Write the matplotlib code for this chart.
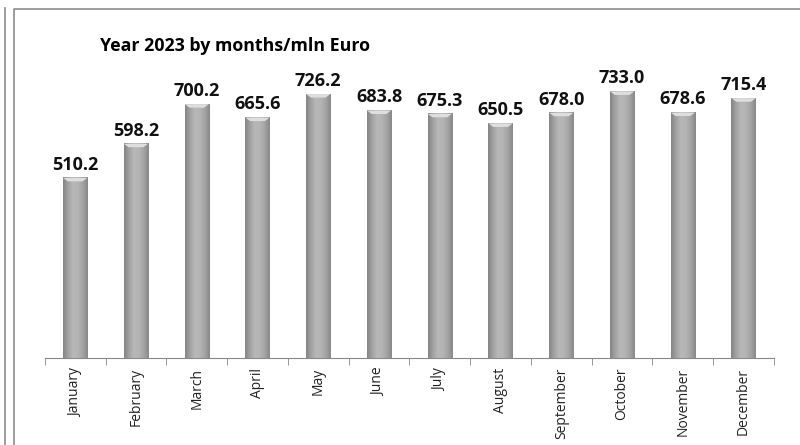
import numpy as np
import matplotlib.pyplot as plt
from matplotlib.colors import LinearSegmentedColormap
from matplotlib.lines import Line2D

months = ['January', 'February', 'March', 'April', 'May', 'June', 'July',
          'August', 'September', 'October', 'November', 'December']
values = [510.2, 598.2, 700.2, 665.6, 726.2, 683.8, 675.3, 650.5, 678.0, 733.0, 678.6, 715.4]
title = 'Year 2023 by months/mln Euro'

fig = plt.figure(figsize=(8, 4.45), dpi=100)
ax = fig.add_axes([0.056, 0.1955, 0.9115, 0.715])
ax.set_xlim(-0.5, len(months) - 0.5)
ax.set_ylim(46, 866)

x = np.arange(len(months))
bars = ax.bar(x, values, width=0.4, color='#a6a6a6', edgecolor='none', zorder=2)

# horizontal shading across each bar
shade = LinearSegmentedColormap.from_list(
    'shade', ['#858585', '#a2a2a2', '#b8b8b8', '#b4b4b4', '#a4a4a4', '#888888'])
grad = np.linspace(0, 1, 64).reshape(1, -1)
for b in bars:
    x0, w, h = b.get_x(), b.get_width(), b.get_height()
    im = ax.imshow(grad, cmap=shade, aspect='auto', zorder=3,
                   extent=[x0, x0 + w, 0, h], interpolation='bicubic')
    im.set_clip_path(b)
    im.set_clip_box(ax.bbox)
    # lighter bevel at the top
    cap = 9
    ax.fill([x0, x0 + w, x0 + w * 0.8, x0 + w * 0.2],
            [h, h, h - cap, h - cap], color='#dedede', zorder=4, lw=0)

ax.set_xlim(-0.5, len(months) - 0.5)
ax.set_ylim(46, 866)

for xi, v in zip(x, values):
    ax.annotate(f'{v:.1f}', (xi, v), xytext=(0, 3), textcoords='offset points',
                ha='center', va='bottom', fontsize=13, fontweight='bold',
                family='Open Sans', color='#111111')

ax.set_xticks(x)
ax.set_xticklabels(months, rotation=90, fontsize=10, family='Open Sans', color='#222222')
ax.set_xticks(np.arange(-0.5, len(months)), minor=True)
ax.tick_params(axis='x', which='major', length=0, pad=7)
ax.tick_params(axis='x', which='minor', length=5, color='#888888')
ax.set_yticks([])
for s in ['top', 'right', 'left']:
    ax.spines[s].set_visible(False)
ax.spines['bottom'].set_color('#888888')

fig.text(100 / 800, 1 - 46 / 445, title, fontsize=12.8,
         fontweight='bold', family='Open Sans', va='center', ha='left')

# chart frame
fig.add_artist(Line2D([14 / 800, 14 / 800, 1], [0, 1 - 9 / 445, 1 - 9 / 445],
                      transform=fig.transFigure, color='#8c8c8c', lw=1.2))
fig.add_artist(Line2D([5 / 800, 5 / 800], [0, 1 - 8 / 445],
                      transform=fig.transFigure, color='#8c8c8c', lw=1.2))

fig.savefig('out.png', dpi=100)
